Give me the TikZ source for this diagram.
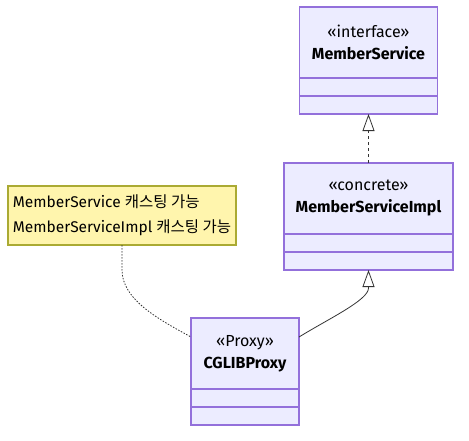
\documentclass[tikz,border=0pt]{standalone}
\usepackage{fontspec}
\setmainfont{Fira Sans}
\newfontfamily\krfont{Noto Sans CJK KR}
\usetikzlibrary{positioning,arrows.meta}
\definecolor{classfill}{HTML}{ECECFF}
\definecolor{classline}{HTML}{9370DB}
\definecolor{notefill}{HTML}{FFF5AD}
\definecolor{noteline}{HTML}{AAAA33}
\definecolor{linkgray}{HTML}{333333}
\tikzset{>=stealth,
  head/.style={draw=classline, fill=classfill, line width=1.3pt, outer sep=0pt, inner sep=0pt,
    minimum height=71pt, align=center, font=\fontsize{16pt}{22pt}\selectfont},
  compart/.style={draw=classline, fill=classfill, line width=1.3pt, outer sep=0pt, inner sep=0pt,
    minimum height=18pt},
  memo/.style={draw=noteline, fill=notefill, line width=1.3pt, outer sep=0pt, inner sep=0pt,
    minimum width=228pt, minimum height=59pt, align=left, font=\fontsize{15.5pt}{25pt}\selectfont},
  realize/.style={draw=linkgray, line width=0.8pt, dash pattern=on 3pt off 3pt,
    -{Triangle[open, length=17pt, width=12pt]}},
  inherit/.style={draw=linkgray, line width=0.8pt, -{Triangle[open, length=17pt, width=12pt]}},
  memolink/.style={draw=linkgray, line width=0.8pt, dash pattern=on 1.5pt off 1.5pt}
}

\begin{document}
\begin{tikzpicture}[x=1pt, y=-1pt]
    \useasboundingbox (0,0) rectangle (469,440);
    \node[head, minimum width=138pt] (ms) at (368.5,42.5) {«interface»\\\textbf{MemberService}};
    \node[compart, minimum width=138pt, below=0pt of ms] (msa) {};
    \node[compart, minimum width=138pt, below=0pt of msa] (msb) {};
    \node[head, minimum width=169pt] (msi) at (368.5,198.5) {«concrete»\\\textbf{MemberServiceImpl}};
    \node[compart, minimum width=169pt, below=0pt of msi] (msia) {};
    \node[compart, minimum width=169pt, below=0pt of msia] (msib) {};
    \node[head, minimum width=108pt] (px) at (245,353.5) {«Proxy»\\\textbf{CGLIBProxy}};
    \node[compart, minimum width=108pt, below=0pt of px] (pxa) {};
    \node[compart, minimum width=108pt, below=0pt of pxa] (pxb) {};
    \node[memo] (note) at (122,215.5) {MemberService {\krfont 캐스팅 가능}\\MemberServiceImpl {\krfont 캐스팅 가능}};
    \draw[realize] (msi.north) -- (msb.south);
    \draw[inherit] ([yshift=-19pt]px.north east) .. controls (330,318) and (368.5,300) .. ([yshift=-18pt]msib.south) -- (msib.south);
    \draw[memolink] (note.south) -- ++(0,25) .. controls (122,300) and (160,320) .. ([yshift=-19pt]px.north west);
\end{tikzpicture}
\end{document}
